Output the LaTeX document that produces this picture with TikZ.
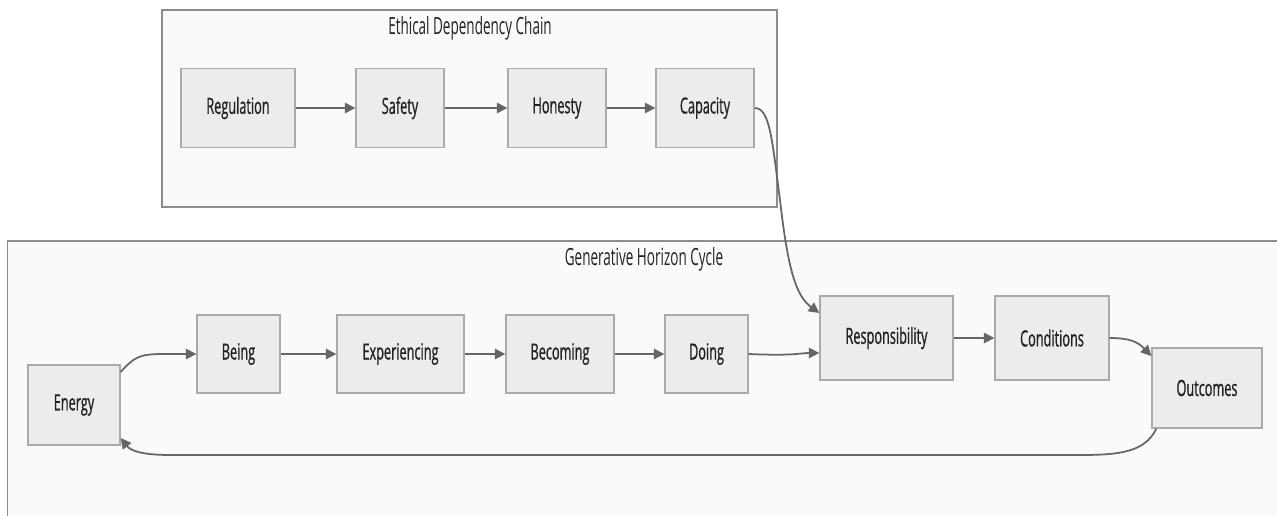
\documentclass[tikz,border=0pt]{standalone}
\usepackage{fontspec}
\setmainfont{Open Sans}[FakeStretch=0.57]
\newfontfamily\boxfont{Open Sans}[FakeStretch=0.57,FakeBold=0.8]
\usetikzlibrary{positioning,arrows.meta}
\definecolor{boxfill}{HTML}{ECECEC}
\definecolor{boxline}{HTML}{AAAAAA}
\definecolor{grpfill}{HTML}{FAFAFA}
\definecolor{grpline}{HTML}{8C8C8C}
\definecolor{edgecol}{HTML}{666666}
\definecolor{txtcol}{HTML}{222222}

\begin{document}
\begin{tikzpicture}[x=0.02cm,y=-0.02cm,
box/.style={draw=boxline,fill=boxfill,line width=0.8pt,rectangle,
    minimum height=1.58cm,inner sep=0pt,text=txtcol,
    font=\boxfont\fontsize{12.7}{15}\selectfont},
group/.style={draw=grpline,fill=grpfill,line width=0.8pt,rectangle,inner sep=0pt},
grouptitle/.style={text=txtcol,font=\fontsize{13.5}{16}\selectfont},
flow/.style={draw=edgecol,line width=1pt,-{Triangle[width=6pt,length=6pt]}}]
\clip (0,0) rectangle (1277,515);
\fill[white] (0,0) rectangle (1277,515);

% clusters
\node (ethical) [group,minimum width=12.3cm,minimum height=3.94cm] at (469.5,108.5) {};
\node (ethicaltitle) [grouptitle] at (470,28) {Ethical Dependency Chain};
\node (horizon) [group,minimum width=25.9cm,minimum height=6.2cm] at (655,396) {};
\node (horizontitle) [grouptitle] at (644,259) {Generative Horizon Cycle};

% ethical chain
\node (reg) [box,minimum width=2.28cm] at (238,108) {Regulation};
\node (saf) [box,minimum width=1.76cm] at (400,108) {Safety};
\node (hon) [box,minimum width=1.96cm] at (557,108) {Honesty};
\node (cap) [box,minimum width=1.96cm] at (705,108) {Capacity};

% horizon cycle
\node (ene) [box,minimum width=1.84cm,minimum height=1.6cm] at (74,405) {Energy};
\node (bei) [box,minimum width=1.66cm,minimum height=1.56cm] at (238.5,354) {Being};
\node (exp) [box,minimum width=2.54cm,minimum height=1.56cm] at (400.5,354) {Experiencing};
\node (bec) [box,minimum width=2.16cm,minimum height=1.56cm] at (560,354) {Becoming};
\node (doi) [box,minimum width=1.66cm,minimum height=1.56cm] at (706.5,354) {Doing};
\node (res) [box,minimum width=2.66cm,minimum height=1.68cm] at (886.5,338) {Responsibility};
\node (con) [box,minimum width=2.28cm,minimum height=1.68cm] at (1052,338) {Conditions};
\node (out) [box,minimum width=2.2cm,minimum height=1.6cm] at (1207,388) {Outcomes};

\draw [flow] (reg) -- (saf);
\draw [flow] (saf) -- (hon);
\draw [flow] (hon) -- (cap);
\draw [flow] (cap.east) .. controls (770,108) and (772,140) .. (780,200)
    .. controls (788,270) and (796,296) .. ([yshift=.5cm]res.west);

\draw [flow] ([yshift=.66cm]ene.east) .. controls (135,356) and (140,354) .. (165,354) -- (bei.west);
\draw [flow] (bei) -- (exp);
\draw [flow] (exp) -- (bec);
\draw [flow] (bec) -- (doi);
\draw [flow] (doi.east) .. controls (795,356) and (800,353) .. ([yshift=-.3cm]res.west);
\draw [flow] (res) -- (con);
\draw [flow] (con.east) .. controls (1130,338) and (1138,342) .. ([yshift=.64cm]out.west);
\draw [flow] ([xshift=.1cm]out.south west) .. controls (1145,452) and (1120,455) .. (1080,455)
    -- (170,455) .. controls (140,455) and (130,450) .. ([yshift=-.66cm]ene.east);
\end{tikzpicture}
\end{document}
